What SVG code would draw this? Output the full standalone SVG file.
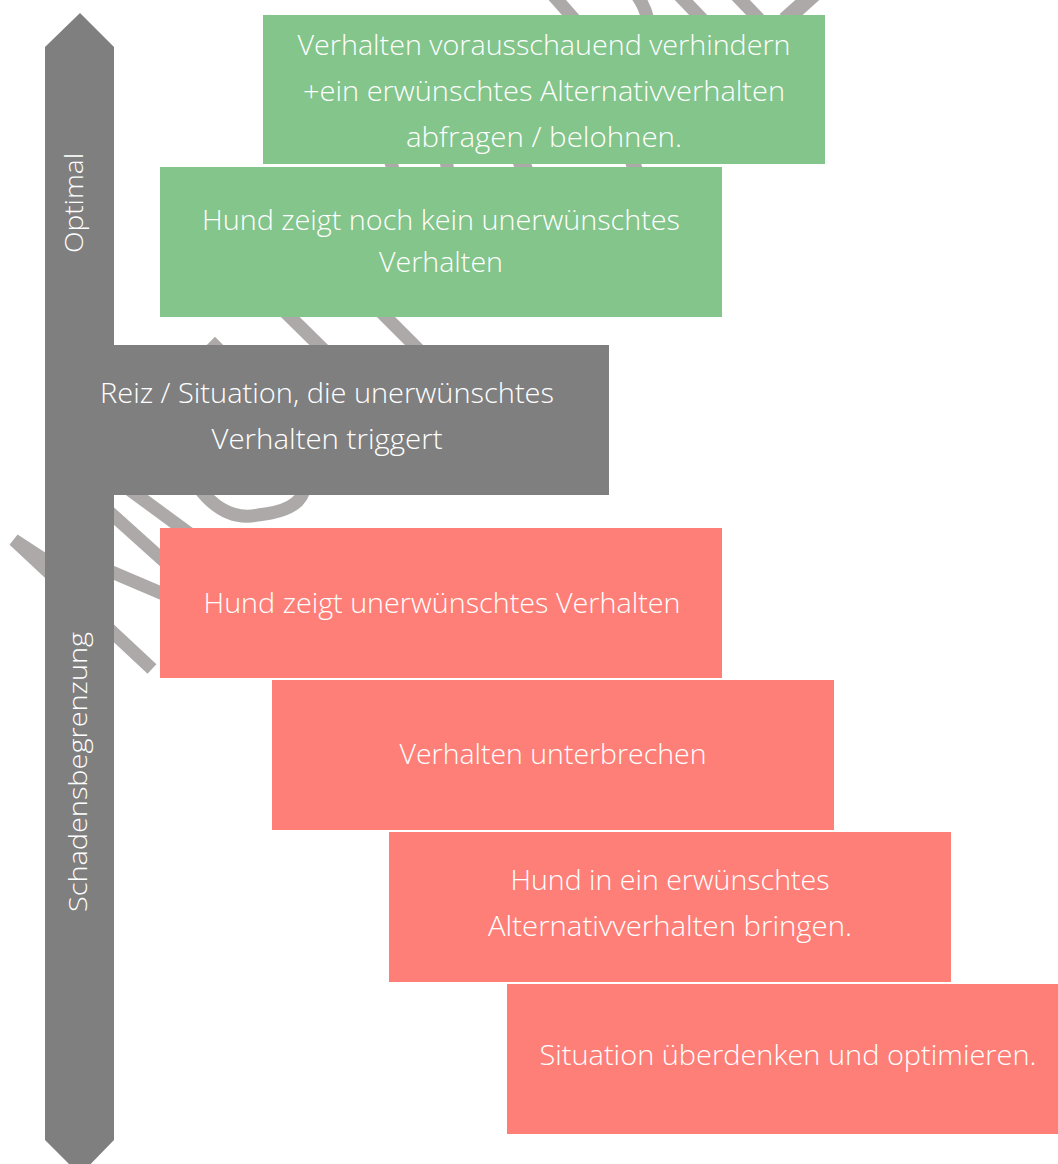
<svg xmlns="http://www.w3.org/2000/svg" width="1058" height="1164" viewBox="0 0 1058 1164">
<style>
.wm{fill:none;stroke:#ADA9A8;stroke-width:13;stroke-linecap:butt;stroke-linejoin:miter}
.green{fill:#83C58B}
.red{fill:#FE7F78}
.grey{fill:#7F7F7F}
.t{font-family:"Open Sans","Liberation Sans",sans-serif;font-weight:300;font-size:27px;fill:#FFFFFF;text-anchor:middle}
.v{font-family:"Open Sans","Liberation Sans",sans-serif;font-weight:300;font-size:25px;fill:#FFFFFF;text-anchor:middle}
</style>
<rect width="1058" height="1164" fill="#FFFFFF"/>
<g id="watermark">
<path class="wm" d="M152,669 L14,540 L60,570"/>
<path class="wm" d="M96,500 L165,562"/>
<path class="wm" d="M130,490 L190,534"/>
<path class="wm" d="M100,567 L168,596"/>
<path class="wm" d="M199,488 Q225,522 258,515 Q302,510 304,488"/>
<path class="wm" d="M193,368 L215,346 L237,368"/>
<path class="wm" d="M275,302 L333,359"/>
<path class="wm" d="M371,302 L428,359"/>
<path class="wm" d="M389,156 L395,176"/>
<path class="wm" d="M445,156 L449,176"/>
<path class="wm" d="M519,156 L527,176" style="stroke-width:17"/>
<path class="wm" d="M631,156 L637,176" style="stroke-width:15"/>
<path class="wm" d="M552,-6 L575,20"/>
<path class="wm" d="M636,-6 Q645,6 648,20"/>
<path class="wm" d="M678,-6 L703,20"/>
<path class="wm" d="M735,-6 L760,20"/>
<path class="wm" d="M814,-6 L785,20" style="stroke-width:16"/>
</g>
<g id="axis">
<polygon class="grey" points="80,13 114,47 114,1140 80,1175 45,1140 45,47"/>
<text class="v" transform="translate(83,203) rotate(-90)" textLength="100" lengthAdjust="spacingAndGlyphs">Optimal</text>
<text class="v" transform="translate(87,772) rotate(-90)" textLength="280" lengthAdjust="spacingAndGlyphs">Schadensbegrenzung</text>
</g>
<g id="connectors"></g>
<g id="node-vorausschauend">
<rect class="green" x="263" y="15" width="562" height="149"/>
<text class="t" x="544" y="55" textLength="493" lengthAdjust="spacingAndGlyphs">Verhalten vorausschauend verhindern</text>
<text class="t" x="544" y="101" textLength="482" lengthAdjust="spacingAndGlyphs">+ein erwünschtes Alternativverhalten</text>
<text class="t" x="544" y="147" textLength="276" lengthAdjust="spacingAndGlyphs">abfragen / belohnen.</text>
</g>
<g id="node-noch-kein">
<rect class="green" x="160" y="167" width="562" height="150"/>
<text class="t" x="441" y="230" textLength="478" lengthAdjust="spacingAndGlyphs">Hund zeigt noch kein unerwünschtes</text>
<text class="t" x="441" y="272" textLength="124" lengthAdjust="spacingAndGlyphs">Verhalten</text>
</g>
<g id="node-reiz">
<rect class="grey" x="45" y="345" width="564" height="150"/>
<text class="t" x="327" y="403" textLength="454" lengthAdjust="spacingAndGlyphs">Reiz / Situation, die unerwünschtes</text>
<text class="t" x="327" y="449" textLength="231" lengthAdjust="spacingAndGlyphs">Verhalten triggert</text>
</g>
<g id="node-zeigt">
<rect class="red" x="160" y="528" width="562" height="150"/>
<text class="t" x="442" y="613" textLength="477" lengthAdjust="spacingAndGlyphs">Hund zeigt unerwünschtes Verhalten</text>
</g>
<g id="node-unterbrechen">
<rect class="red" x="272" y="680" width="562" height="150"/>
<text class="t" x="553" y="764" textLength="307" lengthAdjust="spacingAndGlyphs">Verhalten unterbrechen</text>
</g>
<g id="node-alternativ">
<rect class="red" x="389" y="832" width="562" height="150"/>
<text class="t" x="670" y="890" textLength="319" lengthAdjust="spacingAndGlyphs">Hund in ein erwünschtes</text>
<text class="t" x="670" y="936" textLength="364" lengthAdjust="spacingAndGlyphs">Alternativverhalten bringen.</text>
</g>
<g id="node-optimieren">
<rect class="red" x="507" y="984" width="562" height="150"/>
<text class="t" x="788" y="1065" textLength="497" lengthAdjust="spacingAndGlyphs">Situation überdenken und optimieren.</text>
</g>
</svg>
